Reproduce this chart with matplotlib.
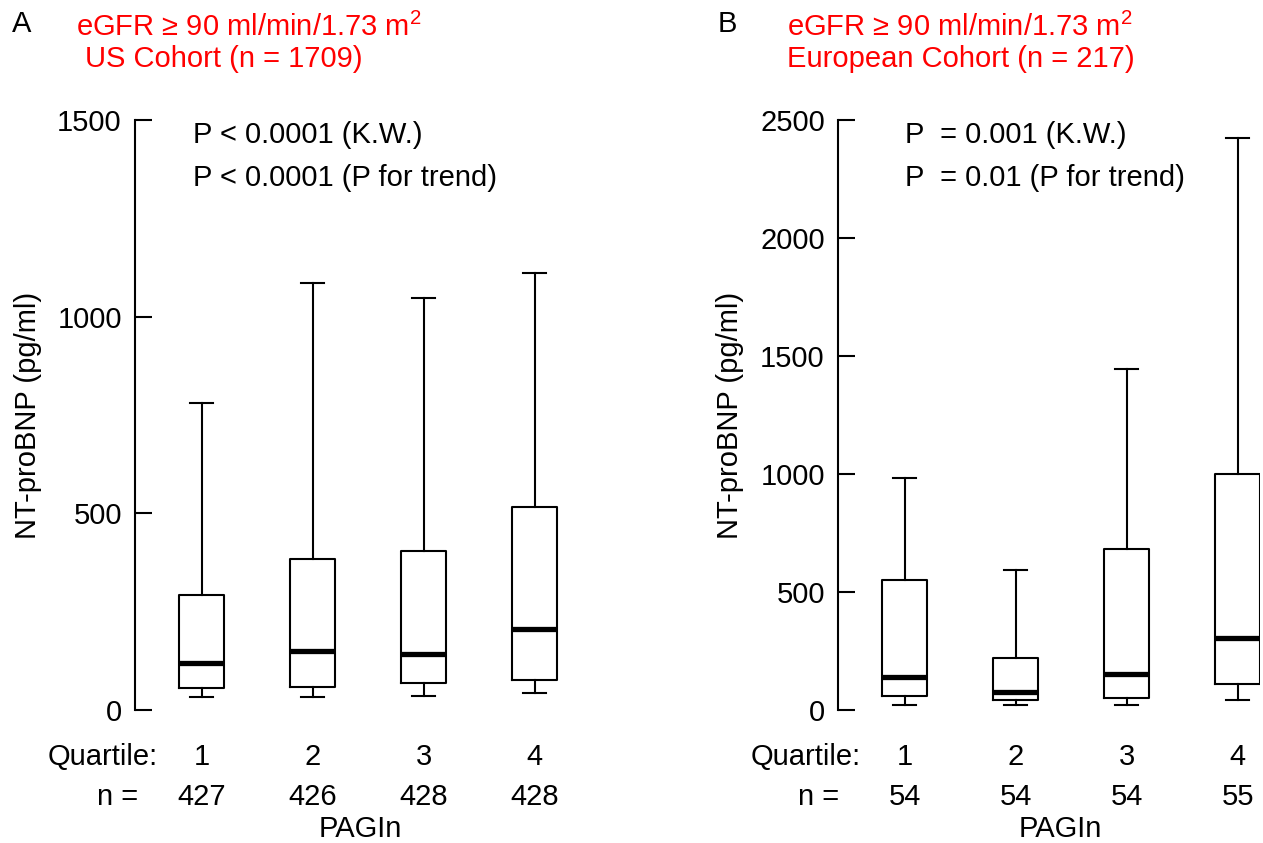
import matplotlib
matplotlib.use("Agg")
import matplotlib.pyplot as plt

plt.rcParams["font.family"] = ["Liberation Sans", "DejaVu Sans"]
plt.rcParams["mathtext.fontset"] = "custom"
plt.rcParams["mathtext.rm"] = "Liberation Sans"
plt.rcParams["mathtext.it"] = "Liberation Sans:italic"

W, H = 1263, 843
FS = 21

quartiles = ["1", "2", "3", "4"]

# US cohort (panel A)
us_n = [427, 426, 428, 428]
us_low = [32, 32, 35, 42]
us_q1 = [55, 59, 68, 76]
us_med = [119, 149, 142, 206]
us_q3 = [292, 385, 405, 517]
us_high = [780, 1085, 1048, 1110]

# European cohort (panel B)
eu_n = [54, 54, 54, 55]
eu_low = [21, 21, 21, 44]
eu_q1 = [60, 44, 51, 109]
eu_med = [141, 78, 152, 303]
eu_q3 = [550, 219, 684, 1002]
eu_high = [985, 592, 1445, 2425]


def fx(x):
    return x / W


def fy(y):
    return 1 - y / H


def make_stats(low, q1, med, q3, high):
    out = []
    for lo, a, m, b, hi in zip(low, q1, med, q3, high):
        out.append({"whislo": lo, "q1": a, "med": m, "q3": b, "whishi": hi, "fliers": []})
    return out


def draw_panel(fig, left, width, stats, ymax, yticks, ns):
    ax = fig.add_axes([fx(left), fy(710), fx(width), fy(120) - fy(710)])
    ax.bxp(stats, positions=[1, 2, 3, 4], widths=0.405, showfliers=False,
           boxprops=dict(color="black", linewidth=1.5),
           whiskerprops=dict(color="black", linewidth=1.5),
           capprops=dict(color="black", linewidth=1.5),
           medianprops=dict(color="black", linewidth=3.8, solid_capstyle="butt"))
    ax.set_xlim(0.4, 0.4 + width / 111)
    ax.set_ylim(0, ymax)
    for s in ["top", "right", "bottom"]:
        ax.spines[s].set_visible(False)
    ax.spines["left"].set_linewidth(1.5)
    ax.set_xticks([])
    ax.set_yticks(yticks)
    ax.tick_params(axis="y", direction="in", length=12, width=1.5, labelsize=FS, pad=9.5)
    # quartile labels and counts under the boxes
    for i, (q, n) in enumerate(zip(quartiles, ns)):
        ax.text(i + 1, -0.08, q, transform=ax.get_xaxis_transform(), ha="center", va="center", fontsize=FS)
        ax.text(i + 1, -0.148, str(n), transform=ax.get_xaxis_transform(), ha="center", va="center", fontsize=FS)
    return ax


fig = plt.figure(figsize=(W / 100, H / 100), dpi=100)

draw_panel(fig, 135, 444, make_stats(us_low, us_q1, us_med, us_q3, us_high),
           1500, [0, 500, 1000, 1500], us_n)
draw_panel(fig, 838, 422, make_stats(eu_low, eu_q1, eu_med, eu_q3, eu_high),
           2500, [0, 500, 1000, 1500, 2000, 2500], eu_n)

# panel A text
fig.text(fx(28), fy(415), "NT-proBNP (pg/ml)", fontsize=FS, rotation=90, va="center", ha="center")
fig.text(fx(12), fy(24), "A", fontsize=FS, va="center")
fig.text(fx(76), fy(27), "eGFR ≥ 90 ml/min/1.73 m$^2$", color="red", fontsize=FS, va="center")
fig.text(fx(85), fy(59), "US Cohort (n = 1709)", color="red", fontsize=FS, va="center")
fig.text(fx(193), fy(135), "P < 0.0001 (K.W.)", fontsize=FS, va="center")
fig.text(fx(193), fy(178), "P < 0.0001 (P for trend)", fontsize=FS, va="center")
fig.text(fx(158), fy(757), "Quartile:", fontsize=FS, va="center", ha="right")
fig.text(fx(138), fy(797), "n =", fontsize=FS, va="center", ha="right")
fig.text(fx(360), fy(829), "PAGIn", fontsize=FS, va="center", ha="center")

# panel B text
fig.text(fx(730), fy(415), "NT-proBNP (pg/ml)", fontsize=FS, rotation=90, va="center", ha="center")
fig.text(fx(718), fy(24), "B", fontsize=FS, va="center")
fig.text(fx(787), fy(27), "eGFR ≥ 90 ml/min/1.73 m$^2$", color="red", fontsize=FS, va="center")
fig.text(fx(787), fy(59), "European Cohort (n = 217)", color="red", fontsize=FS, va="center")
fig.text(fx(905), fy(135), "P  = 0.001 (K.W.)", fontsize=FS, va="center")
fig.text(fx(905), fy(178), "P  = 0.01 (P for trend)", fontsize=FS, va="center")
fig.text(fx(861), fy(757), "Quartile:", fontsize=FS, va="center", ha="right")
fig.text(fx(839), fy(797), "n =", fontsize=FS, va="center", ha="right")
fig.text(fx(1060), fy(829), "PAGIn", fontsize=FS, va="center", ha="center")

fig.savefig("out.png", dpi=100)
